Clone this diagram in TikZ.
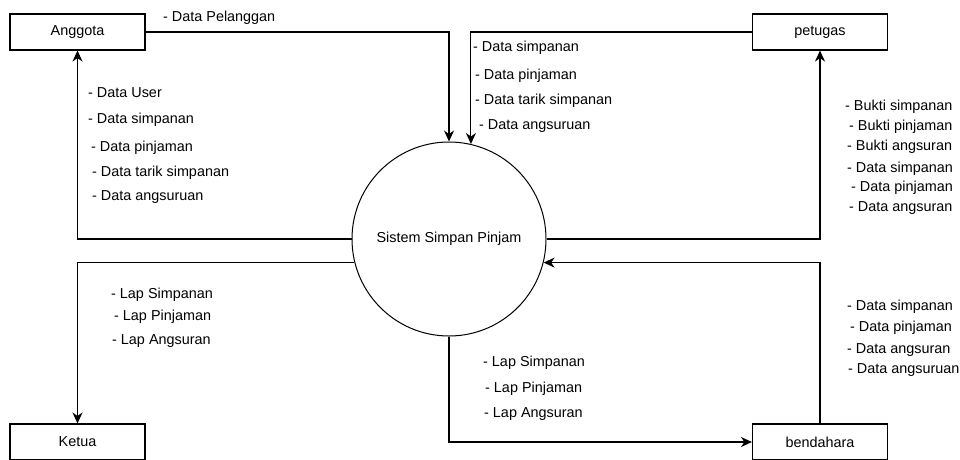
\documentclass[tikz,border=0pt]{standalone}
\usepackage{fontspec}
\setmainfont{Liberation Sans}
\usetikzlibrary{arrows.meta}

\tikzset{
  entity/.style={draw, line width=1.1pt, minimum width=135pt, minimum height=36pt, inner sep=0pt},
  proc/.style={draw, circle, line width=1pt, minimum size=194pt, inner sep=0pt},
  flow/.style={line width=1.1pt, -{Stealth[length=11pt, width=10pt, inset=3.5pt]}},
  lbl/.style={anchor=west, inner sep=0pt}
}

\begin{document}
\begin{tikzpicture}[x=1pt, y=-1pt, font=\fontsize{14.4}{17}\selectfont]
\useasboundingbox (0,0) rectangle (960,459);
\clip (0,0) rectangle (960,459);

% entities and process
\node[entity] (ang) at (77.5,32) {Anggota};
\node[entity] (pet) at (820,32) {petugas};
\node[entity] (ket) at (77.5,442) {Ketua};
\node[entity] (ben) at (820,442) {bendahara};
\node[proc] (sys) at (449,239) {Sistem Simpan Pinjam};

% flows
\draw[flow] (ang.east) -| (sys.north);
\draw[flow] (pet.west) -| (sys.77.5);
\draw[flow] (sys.west) -| (ang.south);
\draw[flow] (sys.194) -| (ket.north);
\draw[flow] (sys.south) |- (ben.west);
\draw[flow] (sys.east) -| (pet.south);
\draw[flow] (ben.north) |- (sys.-14);

% Anggota -> sistem
\node[lbl] (pel) at (163,18) {- Data Pelanggan};

% petugas -> sistem
\node[lbl] (ps1) at (473,48) {- Data simpanan};
\node[lbl] (ps2) at (475,76) {- Data pinjaman};
\node[lbl] (ps3) at (475,101) {- Data tarik simpanan};
\node[lbl] (ps4) at (479,126) {- Data angsuruan};

% sistem -> Anggota
\node[lbl] (sa1) at (88,93) {- Data User};
\node[lbl] (sa2) at (88,120) {- Data simpanan};
\node[lbl] (sa3) at (91,148) {- Data pinjaman};
\node[lbl] (sa4) at (92,173) {- Data tarik simpanan};
\node[lbl] (sa5) at (92,197) {- Data angsuruan};

% sistem -> Ketua
\node[lbl] (sk1) at (111,295) {- Lap Simpanan};
\node[lbl] (sk2) at (114,317) {- Lap Pinjaman};
\node[lbl] (sk3) at (112,341) {- Lap Angsuran};

% sistem -> bendahara
\node[lbl] (sb1) at (483,363) {- Lap Simpanan};
\node[lbl] (sb2) at (485,389) {- Lap Pinjaman};
\node[lbl] (sb3) at (484,414) {- Lap Angsuran};

% sistem -> petugas
\node[lbl] (sp1) at (845,107) {- Bukti simpanan};
\node[lbl] (sp2) at (849,127) {- Bukti pinjaman};
\node[lbl] (sp3) at (847,147) {- Bukti angsuran};
\node[lbl] (sp4) at (847,169) {- Data simpanan};
\node[lbl] (sp5) at (851,188) {- Data pinjaman};
\node[lbl] (sp6) at (849,208) {- Data angsuran};

% bendahara -> sistem
\node[lbl] (bs1) at (847,307) {- Data simpanan};
\node[lbl] (bs2) at (850,328) {- Data pinjaman};
\node[lbl] (bs3) at (847,350) {- Data angsuran};
\node[lbl] (bs4) at (848,370) {- Data angsuruan};
\end{tikzpicture}
\end{document}
